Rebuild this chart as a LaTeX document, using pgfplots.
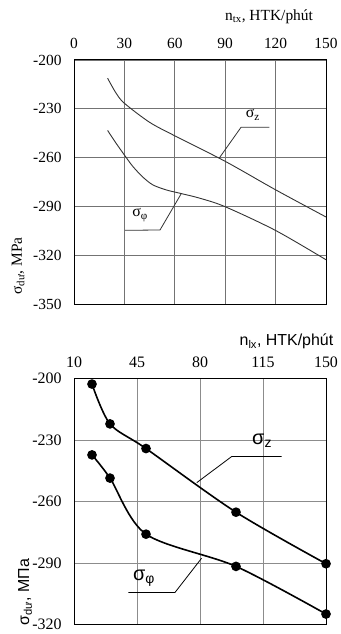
\documentclass[border=0pt]{standalone}
\usepackage{fontspec}
\setmainfont{Liberation Serif}
\newfontfamily\arial{Liberation Sans}
\usepackage{pgfplots}
\pgfplotsset{compat=1.18}
\begin{document}
\begin{tikzpicture}[x=1bp,y=1bp]
\useasboundingbox (0,0) rectangle (340,-634);
% ---------------- top chart ----------------
\begin{axis}[
  at={(74bp,-60bp)}, anchor=north west,
  width=252bp, height=244bp, scale only axis,
  xmin=0, xmax=150, ymin=-350, ymax=-200,
  xtick={0,30,...,150}, ytick={-350,-320,...,-200},
  xticklabel pos=top,
  grid=major, major grid style={black!55, line width=0.8bp},
  axis line style={line width=1bp},
  major tick length=0pt,
  tick label style={font=\fontsize{15.5}{16}\selectfont},
  /pgf/number format/assume math mode=true,
  xticklabel shift=8bp, yticklabel shift=9bp,
  xlabel={n\textsubscript{tx}, HTK/phút},
  ylabel={σ\textsubscript{dư}, MPa},
  every axis x label/.style={at={(axis description cs:0.774,1.176)},anchor=center,font=\fontsize{15.5}{16}\selectfont},
  every axis y label/.style={at={(axis description cs:-0.222,0.156)},anchor=center,rotate=90,font=\fontsize{15.5}{16}\selectfont},
]
\addplot[smooth, no marks, line width=0.9bp, black!80] coordinates {
(20,-211.2) (25,-220.3) (30,-226.6) (45,-238.3) (60,-246.6) (90,-262.3) (120,-279.8) (150,-296.5)};
\addplot[smooth, no marks, line width=0.9bp, black!80] coordinates {
(20,-243.3) (25,-251.1) (30,-258.4) (35,-265.4) (41,-272) (47,-276.8) (55,-279.9) (63,-281.9) (75,-285) (90,-290.2) (120,-304.8) (150,-322.8)};
\draw[line width=0.8bp, black!80] (axis cs:116.3,-241.4) -- (axis cs:99.4,-241.4) -- (axis cs:86.3,-260.5);
\draw[line width=0.8bp, black!80] (axis cs:63.7,-282.4) -- (axis cs:51.2,-304.5) -- (axis cs:30.4,-304.7);
\node[font=\fontsize{16}{16}\selectfont] at (axis cs:106.5,-233.8) {σ\textsubscript{z}};
\node[font=\fontsize{16}{16}\selectfont] at (axis cs:39.3,-295.3) {σ\textsubscript{φ}};
\end{axis}
% ---------------- bottom chart ----------------
\begin{axis}[
  at={(74bp,-378.3bp)}, anchor=north west,
  width=252bp, height=246.4bp, scale only axis,
  xmin=10, xmax=150, ymin=-320, ymax=-200,
  xtick={10,45,...,150}, ytick={-320,-290,...,-200},
  xticklabel pos=top,
  grid=major, major grid style={black!45, line width=0.8bp},
  axis line style={line width=1bp},
  major tick length=0pt,
  tick label style={font=\fontsize{16}{16}\selectfont},
  /pgf/number format/assume math mode=true,
  xticklabel shift=7bp, yticklabel shift=9bp,
  xlabel={n\textsubscript{lx}, HTK/phút},
  ylabel={σ\textsubscript{dư}, МПа},
  every axis x label/.style={at={(axis description cs:0.843,1.149)},anchor=center,font=\arial\fontsize{16}{16}\selectfont},
  every axis y label/.style={at={(axis description cs:-0.194,0.133)},anchor=center,rotate=90,font=\arial\fontsize{16}{16}\selectfont},
]
\addplot[smooth, line width=1.6bp, black, mark=*, mark size=4bp, mark options={fill=black}] coordinates {
(20,-202.8) (30,-222.2) (50,-234.2) (100,-265.2) (150,-290.3)};
\addplot[smooth, line width=1.6bp, black, mark=*, mark size=4bp, mark options={fill=black}] coordinates {
(20,-237.3) (30,-248.6) (50,-275.9) (100,-291.6) (150,-314.8)};
\draw[line width=0.8bp, black] (axis cs:125.4,-238.1) -- (axis cs:97.6,-238.1) -- (axis cs:78.2,-250.8);
\draw[line width=0.8bp, black] (axis cs:40.2,-304.3) -- (axis cs:66.1,-304.3) -- (axis cs:80.9,-287.6);
\node[font=\arial\fontsize{20}{20}\selectfont] at (axis cs:114.5,-230.3) {σ\textsubscript{z}};
\node[font=\arial\fontsize{20}{20}\selectfont] at (axis cs:48.9,-297.3) {σ\textsubscript{φ}};
\end{axis}
\end{tikzpicture}
\end{document}
